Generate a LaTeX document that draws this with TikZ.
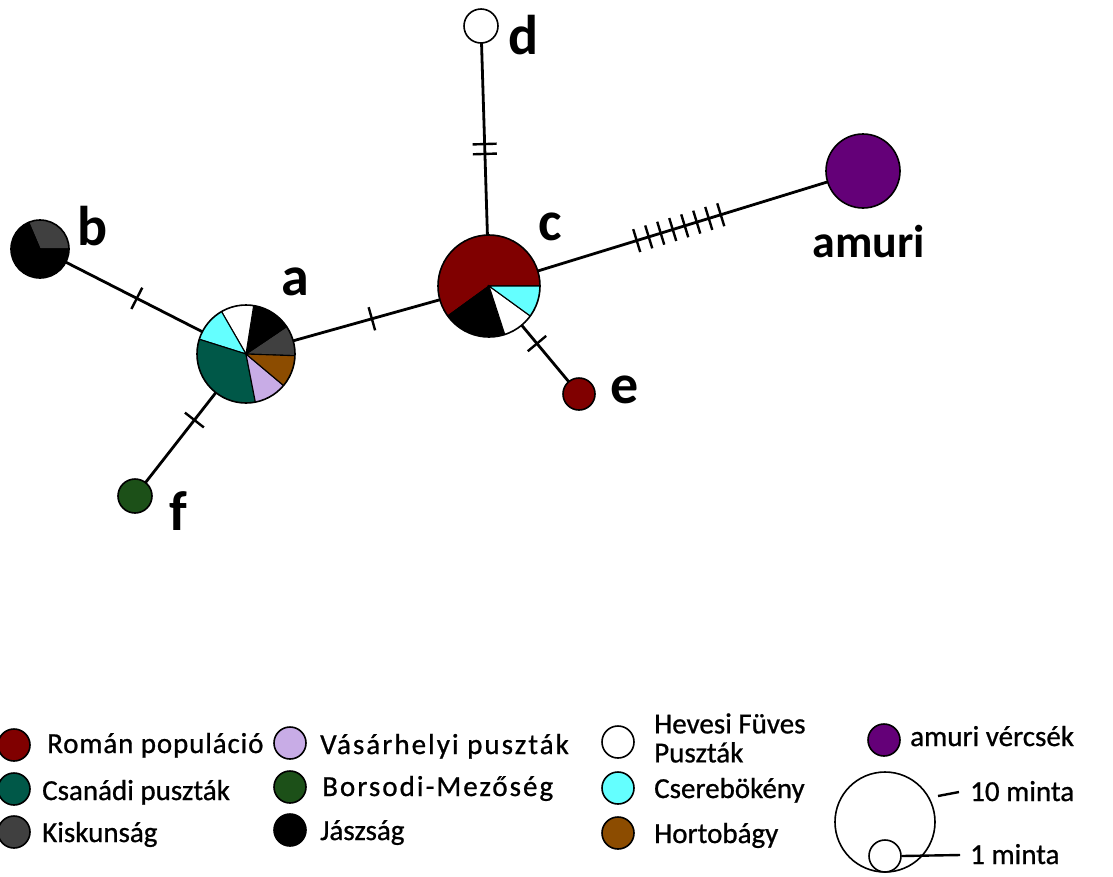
\documentclass[tikz,border=0pt]{standalone}
\usepackage{fontspec}
\setmainfont{Carlito}
\newfontfamily\legfont[FakeBold=0.8]{Carlito}
\newfontfamily\wideleg[LetterSpace=7,FakeBold=0.8]{Carlito}
\newfontfamily\semiwideleg[LetterSpace=3,FakeBold=0.8]{Carlito}
\usetikzlibrary{backgrounds,decorations.markings}
\definecolor{roman}{RGB}{128,0,0}
\definecolor{csanadi}{RGB}{0,88,72}
\definecolor{kiskun}{RGB}{64,64,64}
\definecolor{vasar}{RGB}{200,172,230}
\definecolor{borsod}{RGB}{28,80,24}
\definecolor{cserebo}{RGB}{100,255,255}
\definecolor{horto}{RGB}{140,76,0}
\definecolor{amur}{RGB}{100,0,120}
\newcommand{\pslice}[3]{\fill[#1, draw=black, line width=1.1pt] (path picture bounding box.center) -- ++(#2:70pt) arc[start angle=#2, end angle=#3, radius=70pt] -- cycle;}
\begin{document}
\begin{tikzpicture}[x=1pt,y=1pt,
  hap/.style={circle, draw=black, line width=1.6pt, inner sep=0pt, minimum size=#1},
  conn/.style={line width=2.8pt},
  tick/.style={postaction={decorate, decoration={markings, mark=at position #1 with {\draw[line width=2.4pt] (0pt,-12pt) -- (0pt,12pt);}}}},
  manyticks/.style={postaction={decorate, decoration={markings, mark=between positions 0.395 and 0.63 step 0.0321 with {\draw[line width=2.4pt] (0pt,-12pt) -- (0pt,12pt);}}}},
  lab/.style={anchor=base, inner sep=0pt, font=\bfseries\fontsize{56}{56}\selectfont},
  legc/.style={circle, draw=black, line width=1.6pt, inner sep=0pt, minimum size=32pt},
  legt/.style={anchor=base west, inner sep=0pt, font=\fontsize{29}{29}\legfont},
  leglead/.style={line width=2.4pt}
]
\useasboundingbox (0,0) rectangle (1113,-876);
% haplotype nodes
\node[hap=98pt, path picture={
   \pslice{kiskun}{-2}{34}
   \pslice{black}{34}{81}
   \pslice{white}{81}{120}
   \pslice{cserebo}{120}{162.5}
   \pslice{csanadi}{162.5}{281}
   \pslice{vasar}{281}{320}
   \pslice{horto}{320}{358}
 }] (a) at (246,-354) {};
\node[hap=102pt, path picture={
   \pslice{roman}{0}{216}
   \pslice{black}{216}{288}
   \pslice{white}{288}{324}
   \pslice{cserebo}{324}{360}
 }] (c) at (489,-286) {};
\node[hap=58pt, path picture={
   \pslice{kiskun}{0}{113}
   \pslice{black}{113}{360}
 }] (b) at (40,-249) {};
\node[hap=34pt, fill=white] (d) at (481,-26) {};
\node[hap=74pt, fill=amur] (am) at (863,-171) {};
\node[hap=32pt, fill=roman] (e) at (579,-394) {};
\node[hap=34pt, fill=borsod] (f) at (135,-496) {};
% labels
\node[lab] (la) at (295,-295) {a};
\node[lab] (lb) at (93,-245) {b};
\node[lab] (lc) at (550,-240) {c};
\node[lab] (ld) at (524,-54) {d};
\node[lab] (le) at (625,-403) {e};
\node[lab] (lf) at (178,-530) {f};
\node[lab, font=\bfseries\fontsize{46}{46}\selectfont] (lam) at (869,-257) {amuri};
% connectors
\begin{scope}[on background layer]
\fill[white] (0,0) rectangle (1113,-876);
\draw[conn, tick=0.47] (b.center) -- (a.center);
\draw[conn, tick=0.518] (a.center) -- (c.center);
\draw[conn, tick=0.465] (a.center) -- (f.center);
\draw[conn, tick=0.508, tick=0.546] (c.center) -- (d.center);
\draw[conn, manyticks] (c.center) -- (am.center);
\draw[conn, tick=0.533] (c.center) -- (e.center);
\end{scope}
% legend column 1
\node[legc, fill=roman] (k1) at (14,-745) {};
\node[legt, font=\fontsize{29}{29}\semiwideleg] (t1) at (47,-753) {Román populáció};
\node[legc, fill=csanadi] (k2) at (14,-789) {};
\node[legt] (t2) at (42,-800) {Csanádi puszták};
\node[legc, fill=kiskun] (k3) at (14,-832) {};
\node[legt] (t3) at (42,-842) {Kiskunság};
% column 2
\node[legc, fill=vasar] (k4) at (290,-743) {};
\node[legt, font=\fontsize{29}{29}\wideleg] (t4) at (320,-754) {Vásárhelyi puszták};
\node[legc, fill=borsod] (k5) at (290,-787) {};
\node[legt, font=\fontsize{29}{29}\wideleg] (t5) at (322,-796) {Borsodi-Mezőség};
\node[legc, fill=black] (k6) at (290,-830) {};
\node[legt] (t6) at (320,-840) {Jászság};
% column 3
\node[legc, fill=white] (k7) at (618,-742) {};
\node[anchor=west, inner sep=0pt, align=left, font=\fontsize{29}{29}\legfont] (t7) at (654,-738) {Hevesi Füves\\Puszták};
\node[legc, fill=cserebo] (k8) at (618,-788) {};
\node[legt] (t8) at (654,-798) {Cserebökény};
\node[legc, fill=horto] (k9) at (618,-833) {};
\node[legt] (t9) at (654,-843) {Hortobágy};
% column 4
\node[legc, fill=amur] (k10) at (884,-740) {};
\node[legt] (t10) at (910,-746) {amuri vércsék};
\node[circle, draw=black, line width=1.6pt, inner sep=0pt, minimum size=100pt] (big) at (885,-822) {};
\node[circle, draw=black, line width=1.6pt, inner sep=0pt, minimum size=32pt] (small) at (885,-856) {};
\node[legt] (tbig) at (970,-801) {10 minta};
\node[legt] (tsmall) at (970,-864) {1 minta};
\coordinate (b1) at (938,-796);
\coordinate (b2) at (959,-792);
\coordinate (s2) at (960,-855);
\draw[leglead] (b1) -- (b2);
\draw[leglead] (small.east) -- (s2);
\end{tikzpicture}
\end{document}
